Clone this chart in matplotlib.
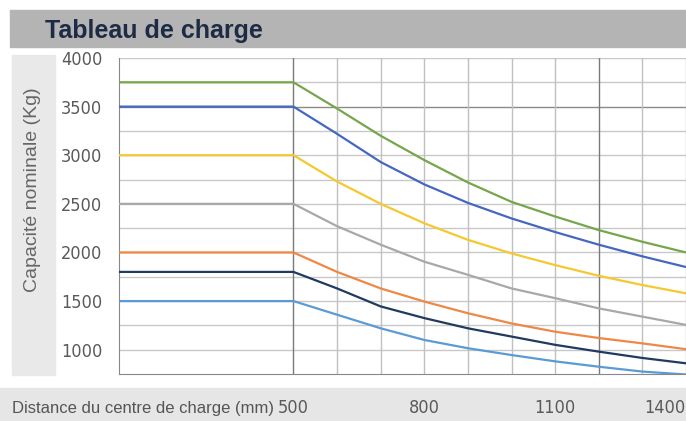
import matplotlib.pyplot as plt
from matplotlib.patches import Rectangle
from matplotlib.transforms import blended_transform_factory

# distance du centre de charge (mm); the first point is the left edge of the flat part
distance = [100, 500, 600, 700, 800, 900, 1000, 1100, 1200, 1300, 1400]

green = [3750, 3750, 3480, 3200, 2950, 2720, 2520, 2370, 2230, 2110, 2000]
blue = [3500, 3500, 3220, 2930, 2700, 2510, 2350, 2210, 2080, 1960, 1850]
yellow = [3000, 3000, 2730, 2500, 2300, 2130, 1990, 1870, 1760, 1665, 1580]
grey = [2500, 2500, 2270, 2080, 1905, 1770, 1630, 1530, 1425, 1340, 1255]
orange = [2000, 2000, 1800, 1630, 1495, 1375, 1270, 1185, 1120, 1065, 1005]
navy = [1800, 1800, 1630, 1445, 1325, 1220, 1135, 1050, 980, 915, 860]
lightblue = [1500, 1500, 1360, 1220, 1100, 1015, 945, 880, 825, 775, 745]

yticks = [1000, 1500, 2000, 2500, 3000, 3500, 4000]
xlabels = [500, 800, 1100, 1400]

plt.rcParams['font.family'] = ['Liberation Sans', 'DejaVu Sans']
cond = dict(family='DejaVu Sans', fontstretch='condensed')

fig = plt.figure(figsize=(6.86, 4.21), dpi=100)
W, H = 686, 421

# banners
fig.patches.append(Rectangle((10 / W, 1 - 47 / H), 1, 37 / H, transform=fig.transFigure,
                             color='#b4b4b4', zorder=-5))
fig.patches.append(Rectangle((12 / W, 1 - 375 / H), 43 / W, 320 / H, transform=fig.transFigure,
                             color='#e9e9e9', zorder=-5))
fig.patches.append(Rectangle((0, 0), 1, 33 / H, transform=fig.transFigure,
                             color='#e6e6e6', zorder=-5))

fig.text(45 / W, 1 - 31 / H, 'Tableau de charge', fontsize=18, color='#1d2b45',
         weight='bold', va='center')
fig.text(33 / W, 1 - 190 / H, 'Capacité nominale (Kg)', fontsize=14, color='#666666',
         rotation=90, ha='center', va='center')
fig.text(12 / W, 1 - 408 / H, 'Distance du centre de charge (mm)', fontsize=12,
         color='#555555', va='center')

ax = fig.add_axes([119 / W, 47 / H, 1 - 119 / W, (374 - 58) / H])
ax.set_xlim(100, 1400)
ax.set_ylim(750, 4000)

# grid
for v in range(1000, 4001, 250):
    c = '#8a8a8a' if v == 3500 else '#c8c8c8'
    ax.axhline(v, color=c, lw=1, zorder=1)
for d in range(500, 1401, 100):
    c = '#7a7a7a' if d in (500, 1200) else '#c0c0c0'
    ax.axvline(d, color=c, lw=1, zorder=1)

series = [(green, '#76a64a'), (blue, '#4567c2'), (yellow, '#f5c830'), (grey, '#a8a8a8'),
          (orange, '#ee8845'), (navy, '#203a60'), (lightblue, '#5b9bd5')]
for vals, col in series:
    ax.plot(distance, vals, color=col, lw=1.6, zorder=3, solid_capstyle='butt')

for s in ['top', 'right']:
    ax.spines[s].set_visible(False)
ax.spines['left'].set_color('#888888')
ax.spines['bottom'].set_color('#888888')

ax.set_yticks(yticks)
ax.set_yticklabels([str(v) for v in yticks], fontsize=13, color='#5a5a5a', **cond)
ax.tick_params(axis='y', length=0, pad=12)
ax.set_xticks([])

tr = blended_transform_factory(ax.transData, fig.transFigure)
for v in xlabels:
    ha = 'right' if v == 1400 else 'center'
    ax.text(v, 1 - 408 / H, str(v), transform=tr, fontsize=13, color='#5a5a5a',
            ha=ha, va='center', clip_on=False, **cond)

fig.savefig('out.png', dpi=100)
